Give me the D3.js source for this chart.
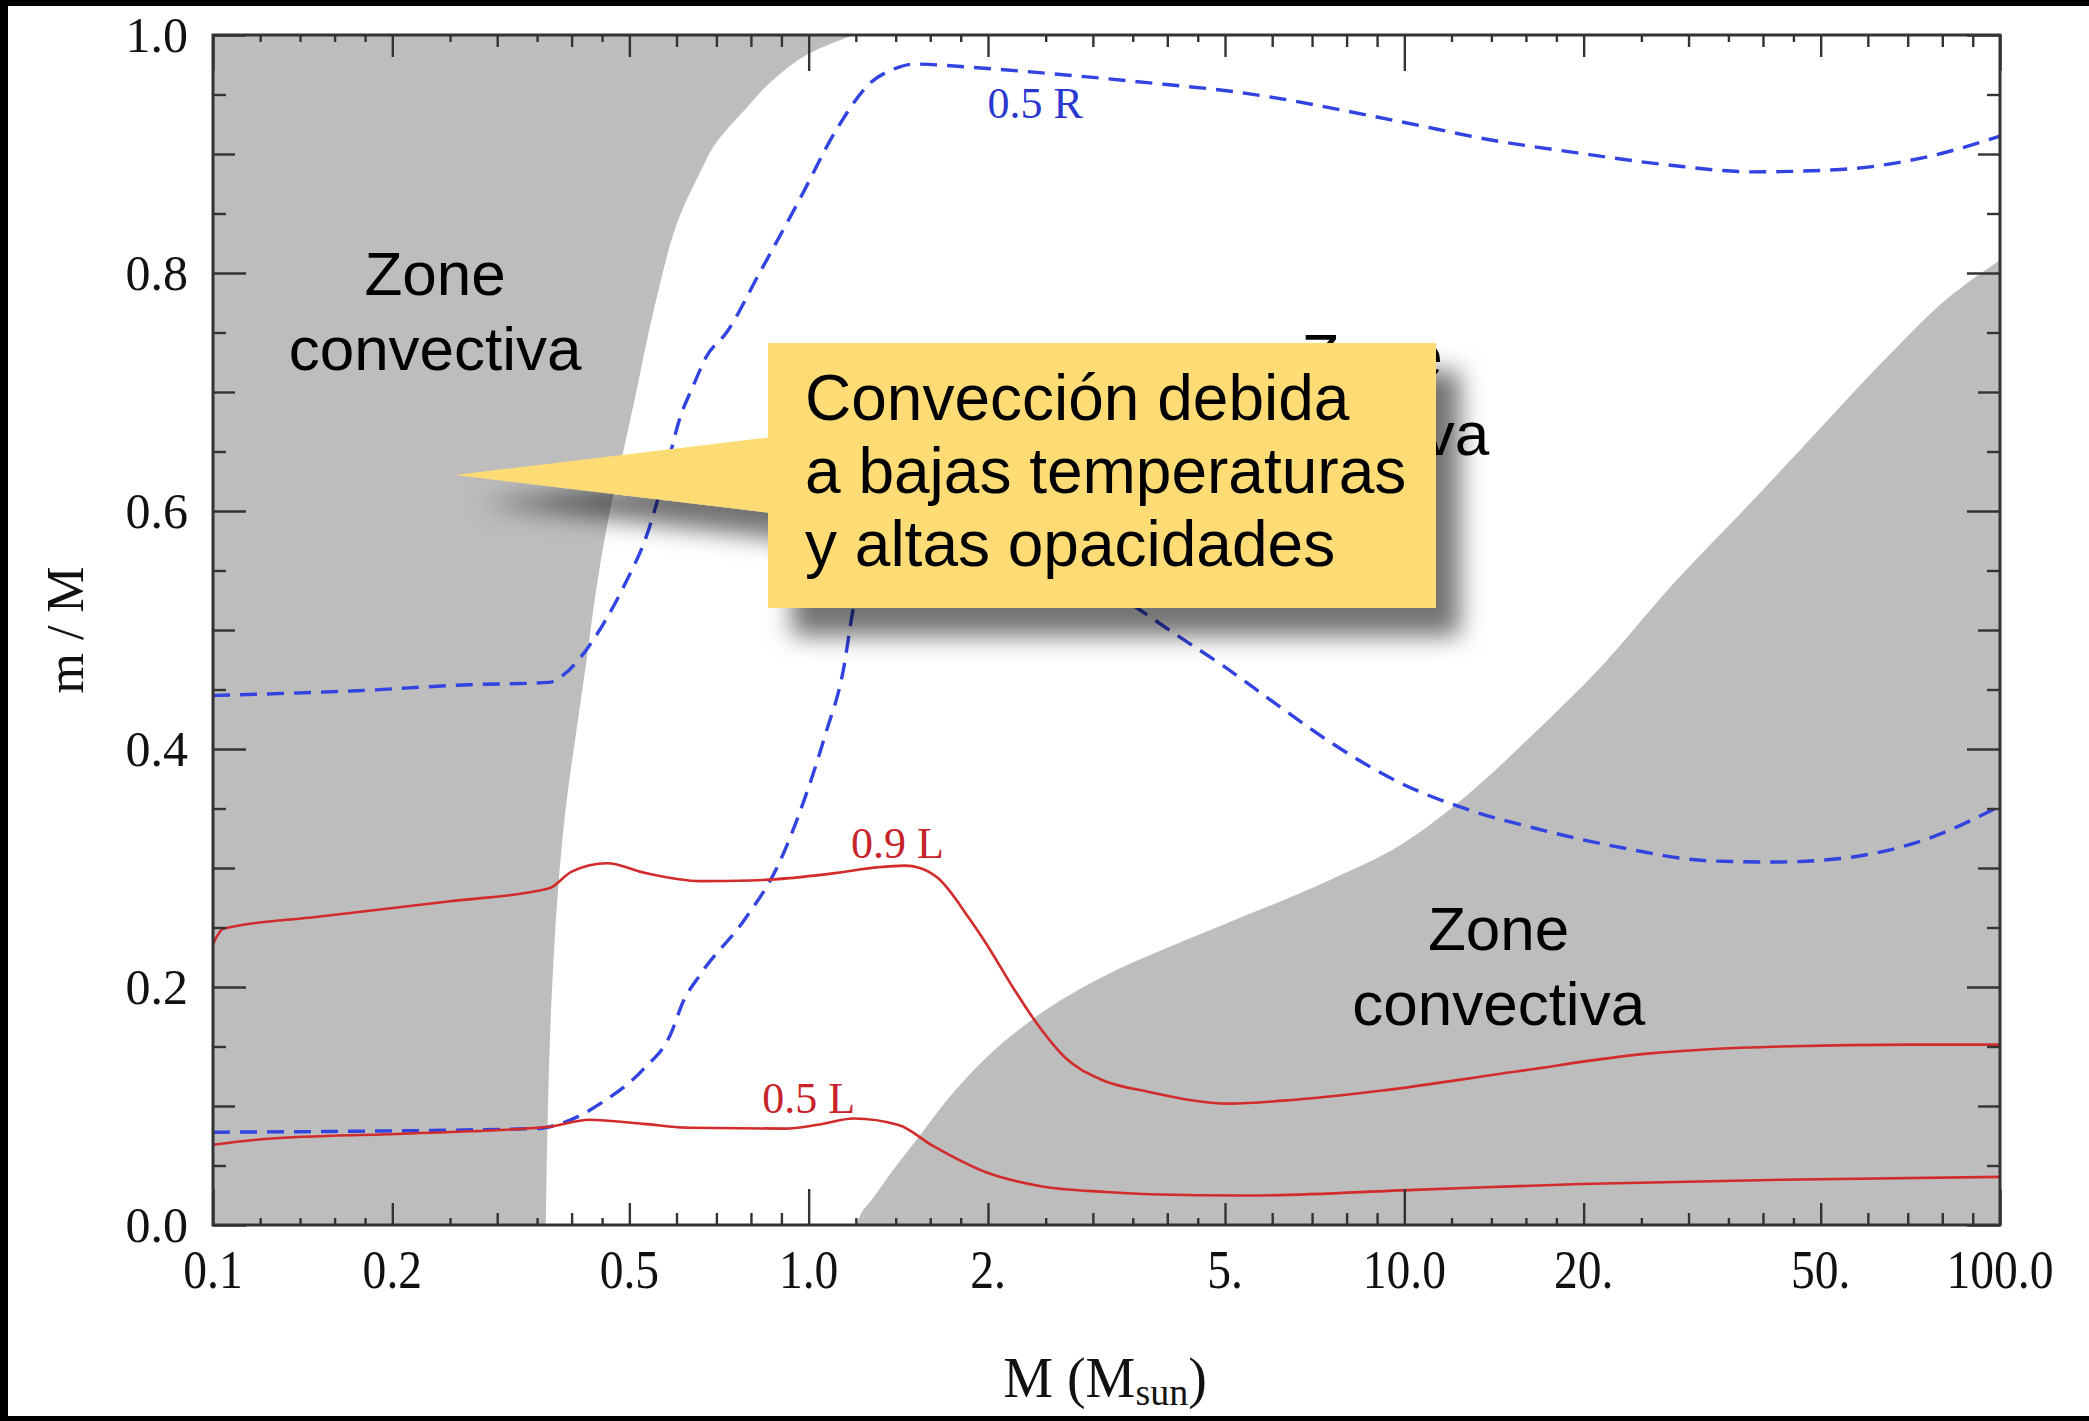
<!DOCTYPE html>
<html>
<head>
<meta charset="utf-8">
<script src="https://cdn.jsdelivr.net/npm/d3@7"></script>
<style>
  body { margin: 0; background: #fff; }
  svg { display: block; }
</style>
</head>
<body>
<svg id="chart"></svg>
<script>
// tick labels
var massTicks = [0.1, 0.2, 0.5, 1, 2, 5, 10, 20, 50, 100]
var massLabels = ["0.1", "0.2", "0.5", "1.0", "2.", "5.", "10.0", "20.", "50.", "100.0"]
var fracTicks = [0, 0.2, 0.4, 0.6, 0.8, 1.0]
var fracLabels = ["0.0", "0.2", "0.4", "0.6", "0.8", "1.0"]

// outer convective envelope, edge read top -> bottom
var envFrac = [1.0, 0.986, 0.965, 0.938, 0.906, 0.885, 0.85, 0.778, 0.693, 0.637, 0.609, 0.55, 0.468, 0.33, 0.188, 0.1, 0]
var envMass = [1.19, 1.016, 0.884, 0.784, 0.692, 0.658, 0.61, 0.555, 0.51, 0.482, 0.468, 0.445, 0.422, 0.387, 0.370, 0.365, 0.362]

// convective core edge
var coreMass = [1.2, 1.22, 1.28, 1.38, 1.52, 1.70, 1.98, 2.44, 3.1, 4.0, 5.0, 7.5, 9.9, 12.8, 16.5, 21.3, 28.3, 38.5, 50, 64, 80, 100]
var coreFrac = [0, 0.008, 0.022, 0.045, 0.072, 0.104, 0.140, 0.177, 0.208, 0.233, 0.253, 0.29, 0.32, 0.362, 0.413, 0.468, 0.539, 0.609, 0.67, 0.727, 0.775, 0.811]

// 0.9 L
var l09Mass = [0.1, 0.104, 0.15, 0.25, 0.367, 0.40, 0.459, 0.53, 0.658, 0.80, 0.929, 1.106, 1.30, 1.45, 1.537, 1.648, 1.858, 1.993, 2.20, 2.44, 2.70, 3.08, 3.73, 5.10, 6.26, 9.19, 15.4, 25.6, 42.8, 71.4, 100]
var l09Frac = [0.236, 0.249, 0.259, 0.272, 0.283, 0.297, 0.304, 0.296, 0.289, 0.2895, 0.2915, 0.2957, 0.3005, 0.302, 0.300, 0.2915, 0.258, 0.2353, 0.200, 0.1664, 0.1403, 0.1227, 0.1118, 0.102, 0.1045, 0.113, 0.129, 0.144, 0.15, 0.1516, 0.1516]

// 0.5 L
var l05Mass = [0.1, 0.1237, 0.2077, 0.367, 0.428, 0.528, 0.633, 0.911, 1.035, 1.19, 1.416, 1.617, 1.98, 2.44, 3.16, 4.5, 5.5, 10.4, 19.8, 42.8, 100]
var l05Frac = [0.0674, 0.0725, 0.0767, 0.0826, 0.0885, 0.085, 0.0817, 0.081, 0.0842, 0.0895, 0.084, 0.0664, 0.0445, 0.0328, 0.0277, 0.025, 0.0248, 0.0295, 0.0345, 0.038, 0.0404]

// 0.5 R, upper branch
var rUpMass = [0.1, 0.1746, 0.269, 0.367, 0.387, 0.414, 0.452, 0.492, 0.536, 0.582, 0.607, 0.641, 0.674, 0.728, 0.827, 0.966, 1.106, 1.271, 1.384, 1.507, 1.858, 2.62, 3.70, 5.24, 9.89, 13.9, 19.5, 27.5, 38.5, 54, 76, 100]
var rUpFrac = [0.445, 0.449, 0.454, 0.456, 0.462, 0.477, 0.505, 0.539, 0.581, 0.643, 0.677, 0.706, 0.73, 0.75, 0.80, 0.862, 0.918, 0.960, 0.971, 0.9756, 0.973, 0.967, 0.960, 0.952, 0.927, 0.912, 0.901, 0.891, 0.885, 0.887, 0.898, 0.915]

// lower dashed branch (middle part sits behind the callout)
var rLoMass = [0.1, 0.349, 0.377, 0.452, 0.528, 0.586, 0.616, 0.658, 0.784, 0.884, 0.981, 1.068, 1.145, 1.186, 1.3, 1.55, 2.0, 2.5, 3.0, 3.5, 4.2, 4.96, 6.16, 7.55, 9.8, 12.8, 16.5, 23.2, 32.6, 41.9, 54, 76, 100]
var rLoFrac = [0.078, 0.081, 0.084, 0.1036, 0.131, 0.16, 0.188, 0.2106, 0.258, 0.300, 0.356, 0.413, 0.468, 0.516, 0.58, 0.63, 0.625, 0.58, 0.544, 0.521, 0.494, 0.47, 0.436, 0.405, 0.372, 0.349, 0.3336, 0.317, 0.306, 0.305, 0.308, 0.325, 0.352]

// region labels
var zoneText = ["Zone", "convectiva", "Zone", "radiativa", "Zone", "convectiva"]
var zoneMass = [0.236, 0.236, 8.83, 8.83, 14.4, 14.4]
var zoneFrac = [0.7815, 0.7185, 0.7126, 0.647, 0.231, 0.168]

// curve labels
var curveText = ["0.5 R", "0.9 L", "0.5 L"]
var curveMass = [2.40, 1.41, 1.0]
var curveFrac = [0.930, 0.3084, 0.0941]

var calloutLines = ["Convección debida", "a bajas temperaturas", "y altas opacidades"]

var W = 2089, H = 1421
var svg = d3.select("#chart").attr("width", W).attr("height", H)

var x = d3.scaleLog().domain([0.1, 100]).range([213, 2000])
var y = d3.scaleLinear().domain([0, 1]).range([1225, 35])

var serif = "'Liberation Serif', 'Times New Roman', serif"
var sans = "'Liberation Sans', Arial, sans-serif"

// slide frame
svg.append("rect").attr("width", W).attr("height", H).attr("fill", "#fff")
svg.append("rect").attr("x", 0).attr("y", 0).attr("width", W).attr("height", 6).attr("fill", "#000")
svg.append("rect").attr("x", 0).attr("y", 0).attr("width", 8).attr("height", H).attr("fill", "#000")
svg.append("rect").attr("x", 0).attr("y", H - 5).attr("width", W).attr("height", 5).attr("fill", "#000")

var defs = svg.append("defs")
defs.append("clipPath").attr("id", "plotclip")
  .append("rect").attr("x", 213).attr("y", 35).attr("width", 1787).attr("height", 1190)
defs.append("filter").attr("id", "shadow")
  .attr("x", "-20%").attr("y", "-20%").attr("width", "150%").attr("height", "160%")
  .append("feDropShadow")
  .attr("dx", 24).attr("dy", 28).attr("stdDeviation", 12)
  .attr("flood-color", "#000").attr("flood-opacity", 0.55)

var plot = svg.append("g").attr("clip-path", "url(#plotclip)")

// gray regions
var envPts = envMass.map(function(m, i) { return [x(m), y(envFrac[i])] })
var envPath = d3.line().curve(d3.curveMonotoneY)(envPts)
  + "L" + x(0.1) + "," + y(0) + "L" + x(0.1) + "," + y(1) + "Z"
plot.append("path").attr("d", envPath).attr("fill", "#bdbdbd")

var corePts = coreMass.map(function(m, i) { return [x(m), y(coreFrac[i])] })
var corePath = d3.line().curve(d3.curveMonotoneX)(corePts)
  + "L" + x(100) + "," + y(0) + "Z"
plot.append("path").attr("d", corePath).attr("fill", "#bdbdbd")

// region labels
svg.append("g").selectAll("text")
  .data(zoneText)
  .enter()
  .append("text")
  .attr("x", function(d, i) { return x(zoneMass[i]) })
  .attr("y", function(d, i) { return y(zoneFrac[i]) })
  .attr("text-anchor", "middle")
  .attr("font-family", sans)
  .attr("font-size", 62)
  .attr("fill", "#000")
  .text(function(d) { return d })

// curves
var curve = d3.line()
  .x(function(d) { return x(d[0]) })
  .y(function(d) { return y(d[1]) })
  .curve(d3.curveMonotoneX)

var series = [
  { mass: rUpMass, frac: rUpFrac, color: "#3143e0", dash: "17,10", width: 3.4 },
  { mass: rLoMass, frac: rLoFrac, color: "#3143e0", dash: "17,10", width: 3.4 },
  { mass: l09Mass, frac: l09Frac, color: "#d22b2b", dash: null, width: 2.6 },
  { mass: l05Mass, frac: l05Frac, color: "#d22b2b", dash: null, width: 2.6 }
]
series.forEach(function(s) {
  plot.append("path")
    .attr("d", curve(s.mass.map(function(m, i) { return [m, s.frac[i]] })))
    .attr("fill", "none")
    .attr("stroke", s.color)
    .attr("stroke-width", s.width)
    .attr("stroke-dasharray", s.dash)
})

svg.append("g").selectAll("text")
  .data(curveText)
  .enter()
  .append("text")
  .attr("x", function(d, i) { return x(curveMass[i]) })
  .attr("y", function(d, i) { return y(curveFrac[i]) })
  .attr("text-anchor", "middle")
  .attr("font-family", serif)
  .attr("font-size", 44)
  .attr("fill", function(d, i) { return i == 0 ? "#2a38d0" : "#c8232a" })
  .text(function(d) { return d })

// ticks, all pointing inward
var decades = [0.1, 1, 10]
var tinyMult = [1.2, 1.4, 1.6, 1.8, 2.5, 3.5, 4.5]
var smallMult = [3, 4, 6, 7, 8, 9]
var midMult = [2, 5]
var spread = function(mults) {
  var out = []
  decades.forEach(function(d) { mults.forEach(function(m) { out.push(d * m) }) })
  return out
}
var xTickSets = [
  { values: spread(tinyMult), len: 7 },
  { values: spread(smallMult), len: 12 },
  { values: spread(midMult), len: 22 },
  { values: [0.1, 1, 10, 100], len: 36 }
]
var yTickSets = [
  { values: [0.05, 0.15, 0.25, 0.35, 0.45, 0.55, 0.65, 0.75, 0.85, 0.95], len: 13 },
  { values: [0.1, 0.3, 0.5, 0.7, 0.9], len: 22 },
  { values: fracTicks, len: 33 }
]

var tickStyle = function(g) {
  g.select(".domain").remove()
  g.selectAll(".tick line").attr("stroke", "#333").attr("stroke-width", 2.4)
}

xTickSets.forEach(function(t) {
  svg.append("g").attr("transform", "translate(0," + y(0) + ")")
    .call(d3.axisBottom(x).tickValues(t.values).tickSize(-t.len).tickFormat(""))
    .call(tickStyle)
  svg.append("g").attr("transform", "translate(0," + y(1) + ")")
    .call(d3.axisTop(x).tickValues(t.values).tickSize(-t.len).tickFormat(""))
    .call(tickStyle)
})
yTickSets.forEach(function(t) {
  svg.append("g").attr("transform", "translate(" + x(0.1) + ",0)")
    .call(d3.axisLeft(y).tickValues(t.values).tickSize(-t.len).tickFormat(""))
    .call(tickStyle)
  svg.append("g").attr("transform", "translate(" + x(100) + ",0)")
    .call(d3.axisRight(y).tickValues(t.values).tickSize(-t.len).tickFormat(""))
    .call(tickStyle)
})

// frame
svg.append("rect")
  .attr("x", x(0.1)).attr("y", y(1))
  .attr("width", x(100) - x(0.1)).attr("height", y(0) - y(1))
  .attr("fill", "none").attr("stroke", "#333").attr("stroke-width", 3)

// tick labels
svg.append("g").selectAll("text")
  .data(massTicks)
  .enter()
  .append("text")
  .attr("transform", function(d) { return "translate(" + x(d) + ",1288) scale(0.88,1)" })
  .attr("text-anchor", "middle")
  .attr("font-family", serif)
  .attr("font-size", 54)
  .attr("fill", "#111")
  .text(function(d, i) { return massLabels[i] })

svg.append("g").selectAll("text")
  .data(fracTicks)
  .enter()
  .append("text")
  .attr("x", 188)
  .attr("y", function(d) { return y(d) })
  .attr("dy", "0.34em")
  .attr("text-anchor", "end")
  .attr("font-family", serif)
  .attr("font-size", 50)
  .attr("fill", "#111")
  .text(function(d, i) { return fracLabels[i] })

// axis titles
var xt = svg.append("text")
  .attr("x", 1105).attr("y", 1397)
  .attr("text-anchor", "middle")
  .attr("font-family", serif)
  .attr("font-size", 56)
  .attr("fill", "#111")
xt.append("tspan").text("M (M")
xt.append("tspan").attr("font-size", 38).attr("dy", 8).text("sun")
xt.append("tspan").attr("dy", -8).text(")")

svg.append("text")
  .attr("transform", "translate(83,630) rotate(-90)")
  .attr("text-anchor", "middle")
  .attr("font-family", serif)
  .attr("font-size", 52)
  .attr("fill", "#111")
  .text("m / M")

// callout box on top
var callout = svg.append("g")
var shape = callout.append("g").attr("filter", "url(#shadow)")
shape.append("polygon")
  .attr("points", "455,475 772,437 772,513")
  .attr("fill", "#fedc74")
shape.append("rect")
  .attr("x", 768).attr("y", 343)
  .attr("width", 668).attr("height", 265)
  .attr("fill", "#fedc74")

callout.selectAll("text")
  .data(calloutLines)
  .enter()
  .append("text")
  .attr("x", 805)
  .attr("y", function(d, i) { return 420 + i * 73 })
  .attr("font-family", sans)
  .attr("font-size", 64)
  .attr("fill", "#000")
  .text(function(d) { return d })
</script>
</body>
</html>
